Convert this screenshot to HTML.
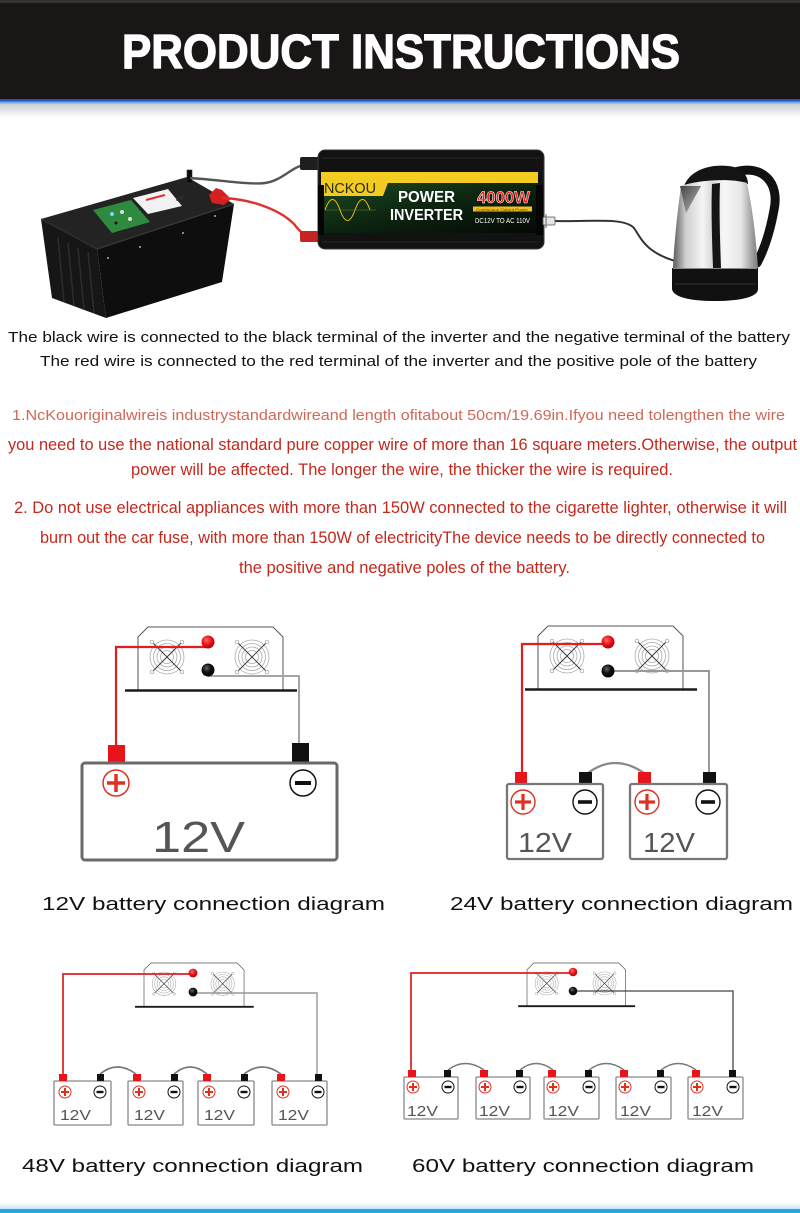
<!DOCTYPE html>
<html><head><meta charset="utf-8"><style>
html,body{margin:0;padding:0;background:#fff;}
body{width:800px;height:1213px;overflow:hidden;}
svg{display:block;}
text{font-family:"Liberation Sans",sans-serif;}
</style></head><body>
<svg width="800" height="1213" viewBox="0 0 800 1213" xmlns="http://www.w3.org/2000/svg">
<defs>
<linearGradient id="hdrfade" x1="0" y1="0" x2="0" y2="1"><stop offset="0" stop-color="#c9ccd2"/><stop offset="1" stop-color="#ffffff"/></linearGradient>
<linearGradient id="botfade" x1="0" y1="0" x2="0" y2="1"><stop offset="0" stop-color="#ffffff"/><stop offset="1" stop-color="#bfe6f5"/></linearGradient>
<linearGradient id="steel" x1="0" y1="0" x2="1" y2="0"><stop offset="0" stop-color="#5a5a5a"/><stop offset="0.15" stop-color="#cfcfcf"/><stop offset="0.35" stop-color="#f4f4f4"/><stop offset="0.46" stop-color="#d8d8d8"/><stop offset="0.6" stop-color="#f7f7f7"/><stop offset="0.8" stop-color="#e6e6e6"/><stop offset="1" stop-color="#7a7a7a"/></linearGradient>
<linearGradient id="spout" x1="0" y1="0" x2="1" y2="1"><stop offset="0" stop-color="#444"/><stop offset="1" stop-color="#bbb"/></linearGradient>
<linearGradient id="invgreen" x1="0" y1="0" x2="1" y2="1"><stop offset="0" stop-color="#1d4a22"/><stop offset="0.5" stop-color="#0c2410"/><stop offset="1" stop-color="#050805"/></linearGradient>
<radialGradient id="redball" cx="0.4" cy="0.35" r="0.7"><stop offset="0" stop-color="#ff6a6a"/><stop offset="0.5" stop-color="#e8141a"/><stop offset="1" stop-color="#a00"/></radialGradient>
<radialGradient id="blkball" cx="0.4" cy="0.35" r="0.7"><stop offset="0" stop-color="#666"/><stop offset="0.45" stop-color="#111"/><stop offset="1" stop-color="#000"/></radialGradient>
<g id="fan">
<circle r="17" fill="none" stroke="#aaa" stroke-width="0.8"/>
<circle r="13.5" fill="none" stroke="#aaa" stroke-width="0.8"/>
<circle r="10" fill="none" stroke="#aaa" stroke-width="0.8"/>
<circle r="6.5" fill="none" stroke="#aaa" stroke-width="0.8"/>
<line x1="-15" y1="-15" x2="15" y2="15" stroke="#333" stroke-width="0.9"/>
<line x1="15" y1="-15" x2="-15" y2="15" stroke="#333" stroke-width="0.9"/>
<circle cx="-15" cy="-15" r="1.8" fill="#fff" stroke="#999" stroke-width="0.7"/>
<circle cx="15" cy="-15" r="1.8" fill="#fff" stroke="#999" stroke-width="0.7"/>
<circle cx="-15" cy="15" r="1.8" fill="#fff" stroke="#999" stroke-width="0.7"/>
<circle cx="15" cy="15" r="1.8" fill="#fff" stroke="#999" stroke-width="0.7"/>
</g>
<g id="inv">
<path d="M0,63 L0,10 L10,0 L135,0 L145,10 L145,63" fill="none" stroke="#555" stroke-width="1"/>
<line x1="-13" y1="63.5" x2="159" y2="63.5" stroke="#1a1a1a" stroke-width="2.6"/>
<use href="#fan" x="29" y="30"/>
<use href="#fan" x="114" y="30"/>
</g>
</defs>

<!-- Header -->
<rect x="0" y="0" width="800" height="100" fill="#1b1616"/>
<rect x="0" y="0" width="800" height="3" fill="#333"/>
<rect x="0" y="99" width="800" height="2.5" fill="#1d5cc0"/>
<rect x="0" y="101.5" width="800" height="2" fill="#7ea7e6"/>
<rect x="0" y="103.5" width="800" height="14" fill="url(#hdrfade)"/>
<text x="122" y="68" font-size="48" font-weight="bold" fill="#fff" stroke="#fff" stroke-width="1.3" textLength="558" lengthAdjust="spacingAndGlyphs">PRODUCT INSTRUCTIONS</text>

<!-- Photo: battery -->
<polygon points="41,219 187,177 234,204 97,249" fill="#232323"/>
<polygon points="97,249 234,204 222,282 106,318" fill="#0e0e0e"/>
<polygon points="41,219 97,249 106,318 52,298" fill="#161616"/>
<line x1="97" y1="249" x2="234" y2="204" stroke="#3a3a3a" stroke-width="1.2"/>
<line x1="41" y1="219" x2="97" y2="249" stroke="#333" stroke-width="1"/>
<g stroke="#2c2c2c" stroke-width="1.5">
<line x1="58" y1="238" x2="64" y2="302"/><line x1="68" y1="243" x2="74" y2="306"/><line x1="78" y1="248" x2="84" y2="310"/><line x1="88" y1="252" x2="94" y2="313"/>
</g>
<circle cx="140" cy="247" r="0.9" fill="#ddd"/><circle cx="183" cy="233" r="0.9" fill="#ddd"/><circle cx="108" cy="258" r="0.9" fill="#ddd"/><circle cx="215" cy="216" r="0.9" fill="#ddd"/>
<polygon points="93,210 131,200 150,222 112,233" fill="#2e8b3e"/>
<circle cx="112" cy="214" r="2" fill="#7fd0ff"/><circle cx="122" cy="212" r="2" fill="#ddd"/><circle cx="130" cy="219" r="2" fill="#ddd"/><circle cx="116" cy="223" r="1.5" fill="#111"/>
<polygon points="133,198 168,189 182,206 148,214" fill="#f2f2f2"/>
<line x1="146" y1="200" x2="165" y2="195" stroke="#d33" stroke-width="2"/>
<rect x="176" y="196" width="8" height="4" fill="#2a2a2a" transform="rotate(-15 180 198)"/>
<rect x="187" y="170" width="5" height="13" fill="#0a0a0a" stroke="#333" stroke-width="0.6"/>
<polygon points="209,195 216,188 222,190 231,199 224,205 212,203" fill="#d42020"/>

<!-- photo wires -->
<path d="M190,178 C220,180 250,185 265,183 C280,181 289,170 300,166 L310,164" fill="none" stroke="#555" stroke-width="2.4"/>
<path d="M222,198 C250,199 279,209 294,224 C300,232 305,236 312,237" fill="none" stroke="#e03030" stroke-width="2.4"/>
<rect x="300" y="157" width="19" height="13" rx="2" fill="#1e1e1e"/>
<rect x="300" y="231" width="19" height="11" rx="2" fill="#c42424"/>

<!-- Inverter photo -->
<rect x="318" y="150" width="226" height="99" rx="7" fill="#121212" stroke="#3a3a3a" stroke-width="1"/>
<rect x="321" y="183" width="217" height="50" fill="url(#invgreen)"/>
<rect x="321" y="172" width="217" height="11" fill="#f3cc22"/>
<polygon points="321,172 392,172 383,196 321,196" fill="#f3cc22"/>
<rect x="318" y="185" width="6" height="50" fill="#050505"/>
<rect x="536" y="185" width="7" height="50" fill="#050505"/>
<line x1="322" y1="158" x2="540" y2="158" stroke="#262626" stroke-width="1"/>
<line x1="322" y1="242" x2="540" y2="242" stroke="#262626" stroke-width="1"/>
<text x="324" y="193" font-family="Liberation Serif,serif" font-size="15" fill="#2a2a10" textLength="52" lengthAdjust="spacingAndGlyphs">NCKOU</text>
<path d="M325,210 C330,196 335,196 340,210 C345,224 350,224 355,210 C360,196 365,196 370,210" fill="none" stroke="#e8c020" stroke-width="1"/>
<line x1="325" y1="210" x2="376" y2="210" stroke="#8a7a20" stroke-width="0.5"/>
<text x="398" y="202" font-size="16" font-weight="bold" fill="#fff" textLength="57" lengthAdjust="spacingAndGlyphs">POWER</text>
<text x="390" y="220" font-size="16" font-weight="bold" fill="#fff" textLength="73" lengthAdjust="spacingAndGlyphs">INVERTER</text>
<text x="477" y="203" font-size="17" font-weight="bold" fill="#e3231b" stroke="#fff" stroke-width="0.5" textLength="53" lengthAdjust="spacingAndGlyphs">4000W</text>
<rect x="473" y="206.5" width="59" height="5" fill="#f0c020"/>
<text x="476" y="210.8" font-size="4" fill="#7a3a00" textLength="52" lengthAdjust="spacingAndGlyphs">Continuous Output Power</text>
<text x="475" y="223" font-size="7" fill="#fff" textLength="55" lengthAdjust="spacingAndGlyphs">DC12V TO AC 110V</text>

<!-- AC cable + plug -->
<path d="M555,221 C590,222 624,217 634,228 C642,240 646,252 675,261" fill="none" stroke="#333" stroke-width="2"/>
<rect x="543" y="217" width="12" height="8" rx="1" fill="#e6e6e6" stroke="#555" stroke-width="0.8"/>
<line x1="546" y1="214" x2="546" y2="228" stroke="#666" stroke-width="1"/>

<!-- Kettle -->
<path d="M735,172 C762,164 780,182 774,210 C770,232 764,250 757,263" fill="none" stroke="#111" stroke-width="9" stroke-linecap="round"/>
<path d="M684,186 C690,170 710,164 728,166 C740,167 748,174 748,184 Z" fill="#141414"/>
<path d="M681,186 C677,215 674,245 673,268 L758,268 C756,240 753,210 747,183 C730,178 698,180 681,186 Z" fill="url(#steel)"/>
<path d="M712,184 L720,183 C719,210 720,240 721,268 L713,268 C712,240 711,210 712,184 Z" fill="#151515"/>
<polygon points="680,186 701,186 686,213" fill="url(#spout)"/>
<path d="M672,268 L758,268 L758,289 C758,297 740,301 715,301 C690,301 673,297 672,289 Z" fill="#111"/>
<line x1="673" y1="268.5" x2="757" y2="268.5" stroke="#888" stroke-width="1"/>
<line x1="675" y1="284" x2="756" y2="284" stroke="#333" stroke-width="1"/>

<!-- Black instructions -->
<text x="8" y="342" font-size="14.5" fill="#111" textLength="782" lengthAdjust="spacingAndGlyphs">The black wire is connected to the black terminal of the inverter and the negative terminal of the battery</text>
<text x="40" y="366" font-size="14.5" fill="#111" textLength="717" lengthAdjust="spacingAndGlyphs">The red wire is connected to the red terminal of the inverter and the positive pole of the battery</text>

<!-- Red instructions -->
<text x="12" y="420" font-size="14.5" fill="#d0685a" textLength="773" lengthAdjust="spacingAndGlyphs">1.NcKouoriginalwireis industrystandardwireand length ofitabout 50cm/19.69in.Ifyou need tolengthen the wire</text>
<text x="8" y="450" font-size="16.5" fill="#c4281c" textLength="789" lengthAdjust="spacingAndGlyphs">you need to use the national standard pure copper wire of more than 16 square meters.Otherwise, the output</text>
<text x="131" y="475" font-size="16.5" fill="#c4281c" textLength="542" lengthAdjust="spacingAndGlyphs">power will be affected. The longer the wire, the thicker the wire is required.</text>
<text x="14" y="513" font-size="16.5" fill="#c4281c" textLength="773" lengthAdjust="spacingAndGlyphs">2. Do not use electrical appliances with more than 150W connected to the cigarette lighter, otherwise it will</text>
<text x="40" y="543" font-size="16.5" fill="#c4281c" textLength="725" lengthAdjust="spacingAndGlyphs">burn out the car fuse, with more than 150W of electricityThe device needs to be directly connected to</text>
<text x="239" y="573" font-size="16.5" fill="#c4281c" textLength="331" lengthAdjust="spacingAndGlyphs">the positive and negative poles of the battery.</text>

<!-- Diagram 1: 12V -->
<use href="#inv" x="138" y="627"/>
<path d="M208,647 L116,647 L116,746" fill="none" stroke="#e01e1e" stroke-width="2.2"/>
<path d="M208,676 L299,676 L299,744" fill="none" stroke="#a4a4a4" stroke-width="2"/>
<circle cx="208" cy="642" r="6.5" fill="url(#redball)"/>
<circle cx="208" cy="670" r="6.5" fill="url(#blkball)"/>
<rect x="108" y="745" width="17" height="17" fill="#e8141a"/>
<rect x="292" y="743" width="17" height="19" fill="#111"/>
<rect x="82" y="763" width="255" height="97" rx="3" fill="none" stroke="#6a6a6a" stroke-width="3"/>
<circle cx="116" cy="783" r="13" fill="none" stroke="#e03020" stroke-width="1.5"/>
<line x1="107" y1="783" x2="125" y2="783" stroke="#e03020" stroke-width="3.5"/>
<line x1="116" y1="774" x2="116" y2="792" stroke="#e03020" stroke-width="3.5"/>
<circle cx="303" cy="783" r="13" fill="none" stroke="#111" stroke-width="1.5"/>
<line x1="295" y1="783" x2="311" y2="783" stroke="#111" stroke-width="4"/>
<text x="152" y="852" font-size="44" fill="#555" textLength="93" lengthAdjust="spacingAndGlyphs">12V</text>
<text x="42" y="910" font-family="DejaVu Sans,Liberation Sans,sans-serif" font-size="18.5" fill="#111" textLength="343" lengthAdjust="spacingAndGlyphs">12V battery connection diagram</text>

<!-- Diagram 2: 24V -->
<use href="#inv" x="538" y="626"/>
<path d="M608,644 L522,644 L522,773" fill="none" stroke="#e01e1e" stroke-width="2.2"/>
<path d="M608,671 L709,671 L709,773" fill="none" stroke="#999" stroke-width="2"/>
<path d="M588,773 Q615,753 644,773" fill="none" stroke="#888" stroke-width="2.2"/>
<circle cx="608" cy="642" r="6.5" fill="url(#redball)"/>
<circle cx="608" cy="671" r="6.5" fill="url(#blkball)"/>
<rect x="515" y="772" width="12" height="12" fill="#e8141a"/>
<rect x="579" y="772" width="13" height="12" fill="#111"/>
<rect x="638" y="772" width="13" height="12" fill="#e8141a"/>
<rect x="703" y="772" width="13" height="12" fill="#111"/>
<rect x="507" y="784" width="96" height="75" rx="2" fill="none" stroke="#777" stroke-width="2.3"/>
<rect x="630" y="784" width="97" height="75" rx="2" fill="none" stroke="#777" stroke-width="2.3"/>
<g fill="none" stroke-width="1.4">
<circle cx="523" cy="802" r="12" stroke="#e03020"/><circle cx="585" cy="802" r="12" stroke="#111"/>
<circle cx="647" cy="802" r="12" stroke="#e03020"/><circle cx="708" cy="802" r="12" stroke="#111"/>
</g>
<g stroke-width="3.2">
<line x1="515" y1="802" x2="531" y2="802" stroke="#e03020"/><line x1="523" y1="794" x2="523" y2="810" stroke="#e03020"/>
<line x1="639" y1="802" x2="655" y2="802" stroke="#e03020"/><line x1="647" y1="794" x2="647" y2="810" stroke="#e03020"/>
<line x1="578" y1="802" x2="592" y2="802" stroke="#111" stroke-width="3.6"/>
<line x1="701" y1="802" x2="715" y2="802" stroke="#111" stroke-width="3.6"/>
</g>
<text x="518" y="852" font-size="28" fill="#555" textLength="54" lengthAdjust="spacingAndGlyphs">12V</text>
<text x="643" y="852" font-size="28" fill="#555" textLength="52" lengthAdjust="spacingAndGlyphs">12V</text>
<text x="450" y="910" font-family="DejaVu Sans,Liberation Sans,sans-serif" font-size="18.5" fill="#111" textLength="343" lengthAdjust="spacingAndGlyphs">24V battery connection diagram</text>

<!-- Diagram 3: 48V -->
<g transform="translate(144,963) scale(0.69)"><use href="#inv"/></g>
<path d="M193,974 L63,974 L63,1075" fill="none" stroke="#e01e1e" stroke-width="1.7"/>
<path d="M193,993 L317,993 L317,1075" fill="none" stroke="#999" stroke-width="1.4"/>
<circle cx="193" cy="973" r="4.4" fill="url(#redball)"/>
<circle cx="193" cy="992" r="4.4" fill="url(#blkball)"/>
<g fill="none" stroke="#777" stroke-width="1.6">
<path d="M100,1074 Q117,1060 136,1074"/><path d="M174,1074 Q190,1060 207,1074"/><path d="M244,1074 Q262,1060 281,1074"/>
</g>
<g fill="none" stroke="#888" stroke-width="1.3">
<rect x="54" y="1081" width="57" height="44" rx="1"/><rect x="128" y="1081" width="55" height="44" rx="1"/><rect x="198" y="1081" width="56" height="44" rx="1"/><rect x="272" y="1081" width="55" height="44" rx="1"/>
</g>
<g fill="#e8141a"><rect x="59" y="1074" width="8" height="7"/><rect x="133" y="1074" width="8" height="7"/><rect x="203" y="1074" width="8" height="7"/><rect x="277" y="1074" width="8" height="7"/></g>
<g fill="#111"><rect x="97" y="1074" width="7" height="7"/><rect x="171" y="1074" width="7" height="7"/><rect x="241" y="1074" width="7" height="7"/><rect x="315" y="1074" width="7" height="7"/></g>
<g fill="none" stroke-width="1">
<circle cx="65" cy="1092" r="6" stroke="#e03020"/><circle cx="139" cy="1092" r="6" stroke="#e03020"/><circle cx="209" cy="1092" r="6" stroke="#e03020"/><circle cx="283" cy="1092" r="6" stroke="#e03020"/>
<circle cx="100" cy="1092" r="6" stroke="#111"/><circle cx="174" cy="1092" r="6" stroke="#111"/><circle cx="244" cy="1092" r="6" stroke="#111"/><circle cx="318" cy="1092" r="6" stroke="#111"/>
</g>
<g stroke="#e03020" stroke-width="2">
<path d="M61,1092 H69 M65,1088 V1096"/><path d="M135,1092 H143 M139,1088 V1096"/><path d="M205,1092 H213 M209,1088 V1096"/><path d="M279,1092 H287 M283,1088 V1096"/>
</g>
<g stroke="#111" stroke-width="2.4">
<path d="M96.5,1092 H103.5"/><path d="M170.5,1092 H177.5"/><path d="M240.5,1092 H247.5"/><path d="M314.5,1092 H321.5"/>
</g>
<g font-size="15" fill="#555">
<text x="60" y="1120" textLength="31" lengthAdjust="spacingAndGlyphs">12V</text>
<text x="134" y="1120" textLength="31" lengthAdjust="spacingAndGlyphs">12V</text>
<text x="204" y="1120" textLength="31" lengthAdjust="spacingAndGlyphs">12V</text>
<text x="278" y="1120" textLength="31" lengthAdjust="spacingAndGlyphs">12V</text>
</g>
<text x="22" y="1172" font-family="DejaVu Sans,Liberation Sans,sans-serif" font-size="18.5" fill="#111" textLength="341" lengthAdjust="spacingAndGlyphs">48V battery connection diagram</text>

<!-- Diagram 4: 60V -->
<g transform="translate(527,963) scale(0.68)"><use href="#inv"/></g>
<path d="M573,973 L411,973 L411,1071" fill="none" stroke="#e01e1e" stroke-width="1.7"/>
<path d="M573,991 L733,991 L733,1071" fill="none" stroke="#444" stroke-width="1.3"/>
<circle cx="573" cy="972" r="4.3" fill="url(#redball)"/>
<circle cx="573" cy="991" r="4.3" fill="url(#blkball)"/>
<g fill="none" stroke="#777" stroke-width="1.5">
<path d="M448,1070 Q465,1057 484,1070"/><path d="M520,1070 Q536,1057 553,1070"/><path d="M589,1070 Q606,1057 624,1070"/><path d="M661,1070 Q678,1057 696,1070"/>
</g>
<g fill="none" stroke="#888" stroke-width="1.3">
<rect x="404" y="1077" width="54" height="42" rx="1"/><rect x="476" y="1077" width="54" height="42" rx="1"/><rect x="544" y="1077" width="55" height="42" rx="1"/><rect x="616" y="1077" width="55" height="42" rx="1"/><rect x="688" y="1077" width="55" height="42" rx="1"/>
</g>
<g fill="#e8141a"><rect x="408" y="1070" width="8" height="7"/><rect x="480" y="1070" width="8" height="7"/><rect x="548" y="1070" width="8" height="7"/><rect x="620" y="1070" width="8" height="7"/><rect x="692" y="1070" width="8" height="7"/></g>
<g fill="#111"><rect x="444" y="1070" width="7" height="7"/><rect x="516" y="1070" width="7" height="7"/><rect x="585" y="1070" width="7" height="7"/><rect x="657" y="1070" width="7" height="7"/><rect x="729" y="1070" width="7" height="7"/></g>
<g fill="none" stroke-width="1">
<circle cx="413" cy="1087" r="6" stroke="#e03020"/><circle cx="485" cy="1087" r="6" stroke="#e03020"/><circle cx="553" cy="1087" r="6" stroke="#e03020"/><circle cx="625" cy="1087" r="6" stroke="#e03020"/><circle cx="697" cy="1087" r="6" stroke="#e03020"/>
<circle cx="448" cy="1087" r="6" stroke="#111"/><circle cx="520" cy="1087" r="6" stroke="#111"/><circle cx="589" cy="1087" r="6" stroke="#111"/><circle cx="661" cy="1087" r="6" stroke="#111"/><circle cx="733" cy="1087" r="6" stroke="#111"/>
</g>
<g stroke="#e03020" stroke-width="2">
<path d="M409,1087 H417 M413,1083 V1091"/><path d="M481,1087 H489 M485,1083 V1091"/><path d="M549,1087 H557 M553,1083 V1091"/><path d="M621,1087 H629 M625,1083 V1091"/><path d="M693,1087 H701 M697,1083 V1091"/>
</g>
<g stroke="#111" stroke-width="2.4">
<path d="M444.5,1087 H451.5"/><path d="M516.5,1087 H523.5"/><path d="M585.5,1087 H592.5"/><path d="M657.5,1087 H664.5"/><path d="M729.5,1087 H736.5"/>
</g>
<g font-size="15" fill="#555">
<text x="407" y="1116" textLength="31" lengthAdjust="spacingAndGlyphs">12V</text>
<text x="479" y="1116" textLength="31" lengthAdjust="spacingAndGlyphs">12V</text>
<text x="548" y="1116" textLength="31" lengthAdjust="spacingAndGlyphs">12V</text>
<text x="620" y="1116" textLength="31" lengthAdjust="spacingAndGlyphs">12V</text>
<text x="692" y="1116" textLength="31" lengthAdjust="spacingAndGlyphs">12V</text>
</g>
<text x="412" y="1172" font-family="DejaVu Sans,Liberation Sans,sans-serif" font-size="18.5" fill="#111" textLength="342" lengthAdjust="spacingAndGlyphs">60V battery connection diagram</text>

<!-- bottom band -->
<rect x="0" y="1203" width="800" height="6" fill="url(#botfade)"/>
<rect x="0" y="1209" width="800" height="4" fill="#25a7df"/>
</svg>
</body></html>
